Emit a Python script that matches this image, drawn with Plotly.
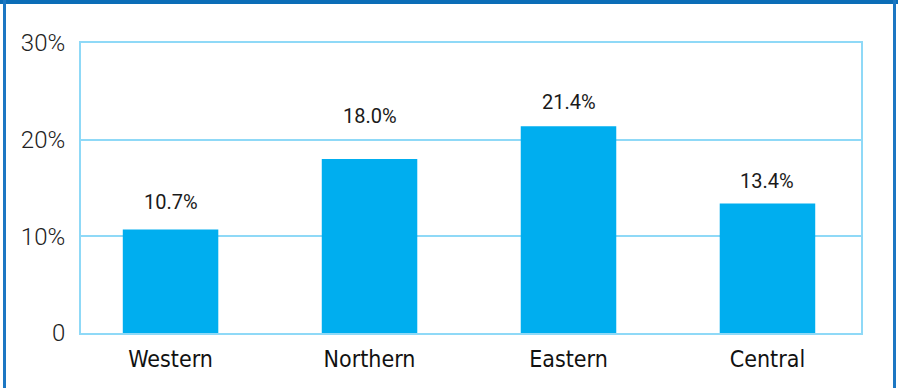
import plotly.graph_objects as go

categories = ["Western", "Northern", "Eastern", "Central"]
values = [10.7, 18.0, 21.4, 13.4]
labels = ["10.7%", "18.0%", "21.4%", "13.4%"]
tick_vals = [0, 10, 20, 30]
tick_text = ["0", "10%", "20%", "30%"]
label_shift = [28, 43, 24, 22]  # pixel offsets of value labels above bars (style)

W, H = 898, 388
L, R, T, B = 81, 37, 43, 55
pw, ph = W - L - R, H - T - B

def px(x):
    return (x - L) / pw

def py(y):
    return 1 - (y - T) / ph

BAR = "#00AEEF"
GRID = "#8FD9F7"
FRAME = "#0B6DB7"

fig = go.Figure()
fig.add_trace(go.Bar(x=list(range(len(categories))), y=values, width=0.48,
                     marker=dict(color=BAR, line=dict(width=0)),
                     hoverinfo="skip"))

for i, (v, t) in enumerate(zip(values, labels)):
    fig.add_annotation(x=i, y=v, text=t, showarrow=False, yshift=label_shift[i],
                       font=dict(family="Roboto", size=20, color="#1a1a1a"))

shapes = [
    dict(type="rect", xref="paper", yref="paper", x0=px(0), x1=px(W), y0=py(0), y1=py(4),
         fillcolor=FRAME, line=dict(width=0), layer="above"),
    dict(type="rect", xref="paper", yref="paper", x0=px(3), x1=px(6), y0=py(0), y1=py(H),
         fillcolor="#1C77C3", line=dict(width=0), layer="above"),
    dict(type="rect", xref="paper", yref="paper", x0=px(893), x1=px(896), y0=py(0), y1=py(H),
         fillcolor="#1C77C3", line=dict(width=0), layer="above"),
]

fig.update_layout(
    width=W, height=H,
    margin=dict(l=L, r=R, t=T, b=B, pad=0),
    paper_bgcolor="white", plot_bgcolor="white",
    showlegend=False,
    shapes=shapes,
    xaxis=dict(range=[-0.45, 3.47], tickvals=list(range(len(categories))), ticktext=categories,
               showgrid=False, zeroline=False, showline=True, linecolor=GRID, linewidth=2,
               mirror=True, ticks="", ticklabelstandoff=4,
               tickfont=dict(family="DejaVu Sans Condensed, Roboto", size=23, color="#111111")),
    yaxis=dict(range=[0, 30], tickvals=tick_vals, ticktext=tick_text,
               showgrid=True, gridcolor=GRID, gridwidth=2, zeroline=False,
               showline=True, linecolor=GRID, linewidth=2, mirror=True, ticks="",
               ticklabelstandoff=9,
               tickfont=dict(family="Roboto", size=24, color="#222222", weight=300)),
)

fig.write_html("out.html")
